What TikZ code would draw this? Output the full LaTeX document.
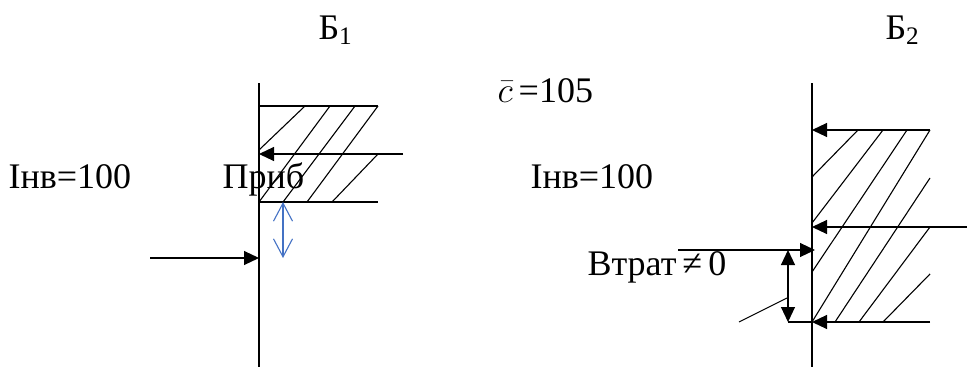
\RequirePackage{fix-cm}
\documentclass[tikz,border=0pt]{standalone}
\usepackage{fontspec}
\setmainfont{Liberation Serif}
\definecolor{dimblue}{RGB}{68, 114, 196}
\usepackage{tikz}
\usetikzlibrary{arrows.meta, positioning}

\begin{document}
\begin{tikzpicture}[x=1pt, y=-1pt, line width=1.1pt,
  every node/.style={font=\fontsize{36}{40}\selectfont, inner sep=0pt, anchor=base west},
  flow/.style={-{Triangle[length=15pt, width=14pt]}},
  gap/.style={{Triangle[length=15pt, width=14pt]}-{Triangle[length=15pt, width=14pt]}},
  margin/.style={dimblue, {Straight Barb[length=18pt, width=19pt]}-{Straight Barb[length=18pt, width=19pt]}}]
  \useasboundingbox (0,0) rectangle (967,367);

  % labels
  \node (b1) at (318,39) {Б\textsubscript{1}};
  \node (b2) at (885,39) {Б\textsubscript{2}};
  \node (cbar) at (497,102) {$\bar{c}$\,=105};
  \node (inv1) at (8,188) {Інв=100};
  \node (prib) at (222,188) {Приб};
  \node (inv2) at (530,188) {Інв=100};
  \node (vtrat) at (587,275) {Втрат\,≠\,0};

  % first bank
  \coordinate (a1) at (259,83);  \coordinate (a2) at (259,367);
  \coordinate (p1) at (259,106); \coordinate (p2) at (378,106);
  \coordinate (p3) at (259,202); \coordinate (p4) at (378,202);
  \coordinate (in1) at (403,154); \coordinate (hit1) at (259,154);
  \coordinate (out1) at (150,258); \coordinate (hit2) at (259,258);
  \coordinate (m1) at (283,202); \coordinate (m2) at (283,258);
  \draw (a1) -- (a2);
  \draw (p1) -- (p2);
  \draw (p3) -- (p4);
  \draw[flow] (in1) -- (hit1);
  \draw[flow] (out1) -- (hit2);
  \draw[margin] (m1) -- (m2);
  \foreach \xa/\ya/\xb/\yb in {305/106/259/150, 330/106/259/202, 355/106/283/202,
                               378/106/307/202, 378/154/332/202}
    \draw (\xa,\ya) -- (\xb,\yb);

  % second bank
  \coordinate (c1) at (812,83);  \coordinate (c2) at (812,367);
  \coordinate (q1) at (930,130); \coordinate (h1) at (812,130);
  \coordinate (q2) at (967,227); \coordinate (h2) at (812,227);
  \coordinate (q3) at (930,322); \coordinate (h3) at (812,322);
  \coordinate (d1) at (788,250); \coordinate (d2) at (788,322);
  \coordinate (w1) at (678,250); \coordinate (h4) at (815,250);
  \coordinate (s1) at (739,322); \coordinate (s2) at (787,298);
  \draw (c1) -- (c2);
  \draw[flow] (q1) -- (h1);
  \draw[flow] (q2) -- (h2);
  \draw[flow] (q3) -- (h3);
  \draw (h3) -- (d2);
  \draw[flow] (w1) -- (h4);
  \draw[gap] (d1) -- (d2);
  \draw (s1) -- (s2);
  \foreach \xa/\ya/\xb/\yb in {858/130/812/177, 883/130/812/223, 907/130/812/272,
                               930/130/812/322, 930/178/835/322, 930/227/859/322,
                               930/274/883/322}
    \draw (\xa,\ya) -- (\xb,\yb);
\end{tikzpicture}
\end{document}
